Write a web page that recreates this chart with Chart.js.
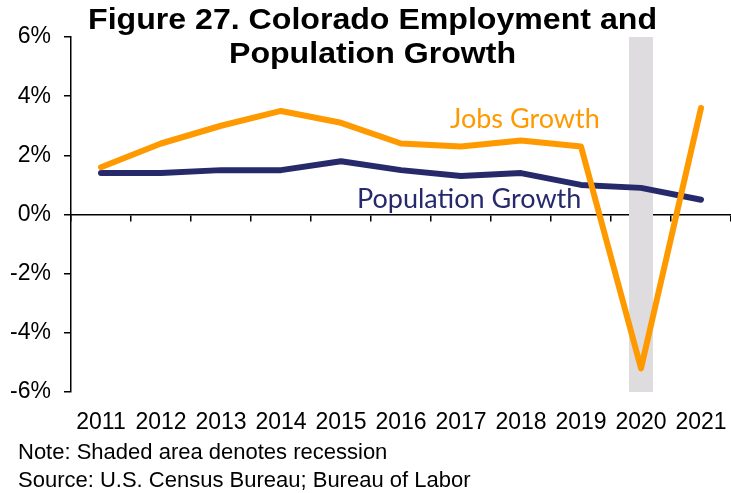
<!DOCTYPE html>
<html>
<head>
<meta charset="utf-8">
<script src="https://cdn.jsdelivr.net/npm/chart.js@4/dist/chart.umd.min.js"></script>
<style>
  body { margin: 0; background: #fff; }
  #wrap { position: relative; width: 731px; height: 493px; overflow: hidden; }
  canvas { position: absolute; left: 0; top: 0; }
  .title { position: absolute; left: 0; width: 745px; text-align: center; font: bold 30px "Liberation Sans", Arial, sans-serif; line-height: 34px; color: #000; transform: scaleX(1.07); transform-origin: 372px 0; }
  .note { position: absolute; left: 18px; font: 22px "Liberation Sans", Arial, sans-serif; line-height: 28px; color: #000; white-space: nowrap; }
  .lbl { position: absolute; font: 27px Lato, sans-serif; line-height: 27px; white-space: nowrap; }
</style>
</head>
<body>
<div id="wrap">
  <canvas id="growth" width="731" height="493"></canvas>
  <div class="title" style="top:2px">Figure 27. Colorado Employment and<br>Population Growth</div>
  <div class="lbl" style="left:450px; top:104px; color:#FF9900">Jobs Growth</div>
  <div class="lbl" style="left:357px; top:184px; color:#262A6B">Population Growth</div>
  <div class="note" style="top:438px">Note: Shaded area denotes recession<br>Source: U.S. Census Bureau; Bureau of Labor</div>
</div>
<script>
var years = ['2011', '2012', '2013', '2014', '2015', '2016', '2017', '2018', '2019', '2020', '2021'];
var jobsGrowth = [1.6, 2.4, 3.0, 3.5, 3.1, 2.4, 2.3, 2.5, 2.3, -5.2, 3.6];
var popGrowth = [1.4, 1.4, 1.5, 1.5, 1.8, 1.5, 1.3, 1.4, 1.0, 0.9, 0.5];
var recession = [null, null, null, null, null, null, null, null, null, [-6, 6], null];

Chart.defaults.font.family = '"Liberation Sans", Arial, sans-serif';
Chart.defaults.color = '#000';

var ctx = document.getElementById('growth');
var myChart = new Chart(ctx, {
    data: {
        labels: years,
        datasets: [
            {
                type: 'bar',
                label: 'Recession',
                data: recession,
                backgroundColor: '#DEDCDE',
                barPercentage: 0.4,
                categoryPercentage: 1,
                xAxisID: 'x',
                order: 3,
            },
            {
                type: 'line',
                label: 'Population Growth',
                data: popGrowth,
                borderColor: '#262A6B',
                borderWidth: 6,
                borderCapStyle: 'round',
                borderJoinStyle: 'round',
                pointRadius: 0,
                tension: 0,
                xAxisID: 'x',
                order: 2,
            },
            {
                type: 'line',
                label: 'Jobs Growth',
                data: jobsGrowth,
                borderColor: '#FF9900',
                borderWidth: 6,
                borderCapStyle: 'round',
                borderJoinStyle: 'round',
                pointRadius: 0,
                tension: 0,
                xAxisID: 'x',
                order: 1,
            },
        ]
    },
    options: {
        responsive: false,
        animation: false,
        layout: {
            padding: { left: 0, top: 37, right: -4, bottom: 53 },
        },
        plugins: {
            legend: { display: false },
            tooltip: { enabled: false },
        },
        scales: {
            x: {
                type: 'category',
                position: 'bottom',
                offset: true,
                // hidden tick marks only push the labels down
                grid: { display: false, drawTicks: true, tickLength: 17 },
                border: { display: false },
                ticks: {
                    font: { size: 23 },
                    padding: 0,
                    maxRotation: 0,
                    autoSkip: false,
                },
                afterFit: function (s) { s.height = 48; },
            },
            x2: {
                type: 'category',
                axis: 'x',
                position: { y: 0 },
                offset: true,
                grid: {
                    drawOnChartArea: false,
                    offset: true,
                    tickLength: 6,
                    color: '#000',
                    lineWidth: 1.5,
                },
                border: { color: '#000', width: 1.5 },
                ticks: { display: false },
            },
            y: {
                min: -6,
                max: 6,
                ticks: {
                    stepSize: 2,
                    font: { size: 23 },
                    padding: 13,
                    callback: function (v) { return v + '%'; },
                },
                grid: {
                    drawOnChartArea: false,
                    tickLength: 7,
                    tickColor: '#000',
                    lineWidth: 1.5,
                },
                border: { color: '#000', width: 1.5 },
                afterFit: function (s) { s.width = 71; },
            },
        },
    },
});
</script>
</body>
</html>
